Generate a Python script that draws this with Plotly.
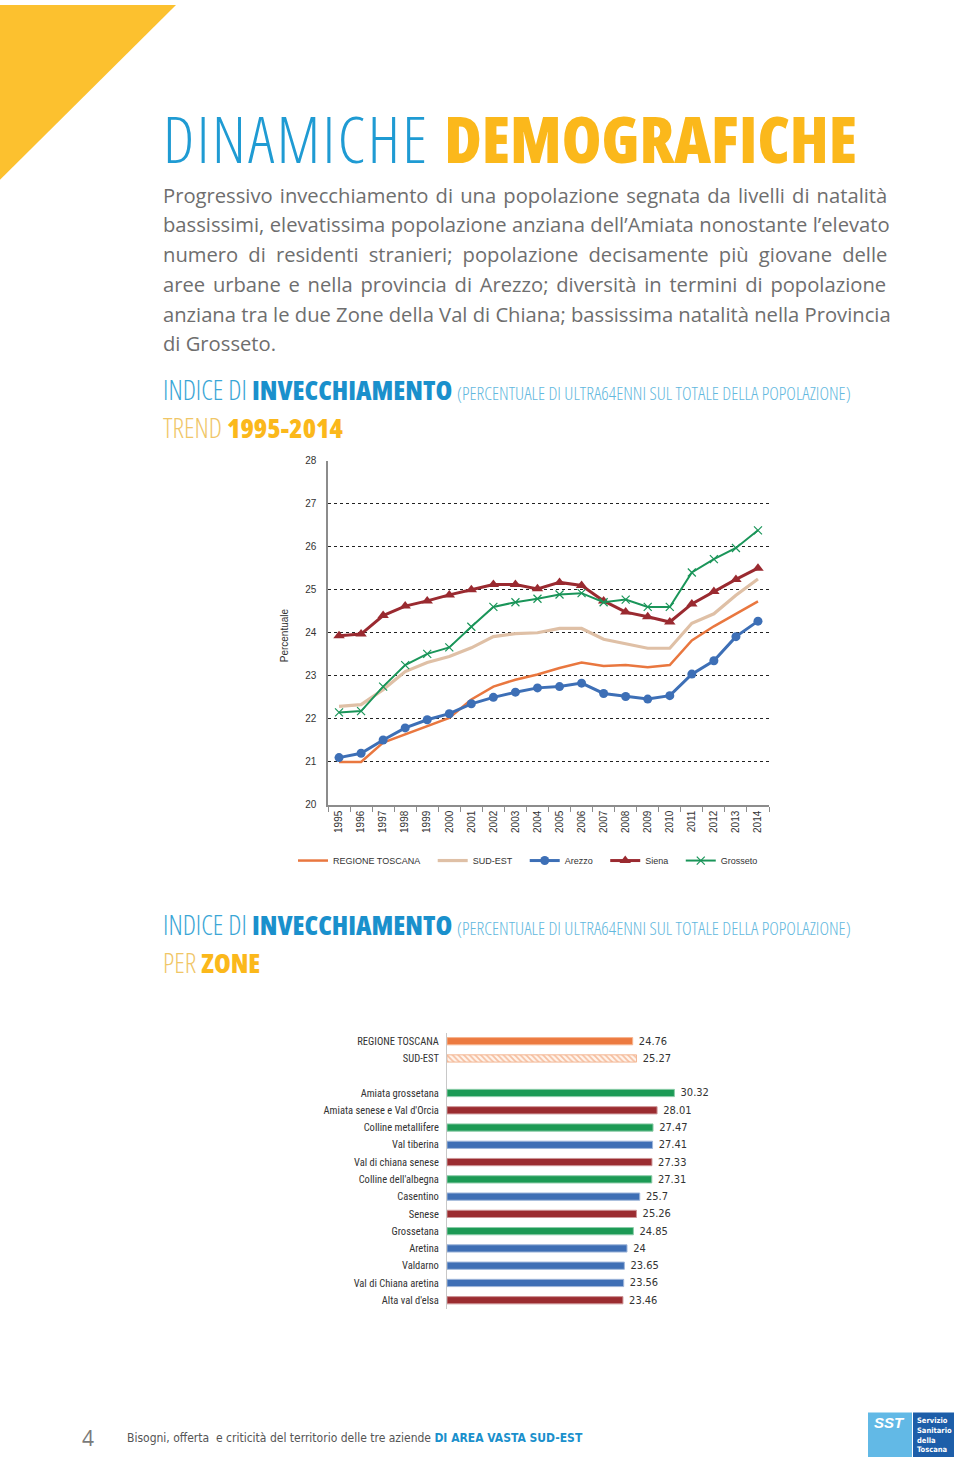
import plotly.graph_objects as go

# ---------------- DATA ----------------
years = ["1995", "1996", "1997", "1998", "1999", "2000", "2001", "2002", "2003", "2004",
         "2005", "2006", "2007", "2008", "2009", "2010", "2011", "2012", "2013", "2014"]
regione_toscana = [21.00, 21.00, 21.45, 21.64, 21.82, 22.02, 22.45, 22.75, 22.91, 23.03,
                   23.18, 23.31, 23.23, 23.25, 23.20, 23.25, 23.82, 24.15, 24.44, 24.73]
sud_est = [22.29, 22.33, 22.68, 23.10, 23.31, 23.45, 23.65, 23.91, 23.98, 24.00,
           24.10, 24.10, 23.85, 23.75, 23.64, 23.64, 24.22, 24.44, 24.87, 25.25]
arezzo = [21.10, 21.20, 21.51, 21.79, 21.98, 22.12, 22.35, 22.50, 22.62, 22.72,
          22.75, 22.83, 22.59, 22.52, 22.46, 22.54, 23.04, 23.35, 23.91, 24.27]
siena = [23.93, 23.97, 24.40, 24.62, 24.74, 24.88, 25.00, 25.12, 25.12, 25.02,
         25.17, 25.10, 24.74, 24.48, 24.37, 24.25, 24.67, 24.96, 25.24, 25.50]
grosseto = [22.15, 22.18, 22.75, 23.25, 23.51, 23.66, 24.14, 24.60, 24.71, 24.79,
            24.89, 24.92, 24.71, 24.77, 24.60, 24.60, 25.40, 25.71, 25.97, 26.38]
y_ticks = [20, 21, 22, 23, 24, 25, 26, 27, 28]

ref_labels = ["REGIONE TOSCANA", "SUD-EST"]
ref_values = [24.76, 25.27]
zone_labels = ["Amiata grossetana", "Amiata senese e Val d'Orcia", "Colline metallifere",
               "Val tiberina", "Val di chiana senese", "Colline dell'albegna", "Casentino",
               "Senese", "Grossetana", "Aretina", "Valdarno", "Val di Chiana aretina",
               "Alta val d'elsa"]
zone_values = [30.32, 28.01, 27.47, 27.41, 27.33, 27.31, 25.7, 25.26, 24.85, 24, 23.65, 23.56, 23.46]
zone_area = ["Grosseto", "Siena", "Grosseto", "Arezzo", "Siena", "Grosseto", "Arezzo",
             "Siena", "Grosseto", "Arezzo", "Arezzo", "Arezzo", "Siena"]

# ---------------- STYLE ----------------
W, H = 960, 1470
def fx(x): return x / W
def fy(y): return 1 - y / H

COND = "DejaVu Sans Condensed, Liberation Sans Narrow, sans-serif"
ARIAL = "Liberation Sans, Arial, sans-serif"
OPEN = "Open Sans, sans-serif"
BLUE_T = "#1f9bd3"
YEL = "#fbb81b"
C_REG = "#e9773f"
C_SUD = "#dfc0a6"
C_ARE = "#3d6fb6"
C_SIE = "#9a2a30"
C_GRO = "#1a9559"
area_color = {"Arezzo": "#3f6fb5", "Siena": "#9b2c30", "Grosseto": "#1c9a55"}
area_edge = {"Arezzo": "#9fb6da", "Siena": "#cd9597", "Grosseto": "#8ccca9"}

fig = go.Figure()

# ---------------- LINE CHART ----------------
PAD = "\u00a0\u00a0\u00a0"
fig.add_trace(go.Scatter(x=years, y=regione_toscana, name="REGIONE TOSCANA" + PAD, mode="lines",
                         line=dict(color=C_REG, width=2.5), xaxis="x", yaxis="y"))
fig.add_trace(go.Scatter(x=years, y=sud_est, name="SUD-EST" + PAD, mode="lines",
                         line=dict(color=C_SUD, width=3.2), xaxis="x", yaxis="y"))
fig.add_trace(go.Scatter(x=years, y=arezzo, name="Arezzo" + PAD, mode="lines+markers",
                         line=dict(color=C_ARE, width=3),
                         marker=dict(symbol="circle", size=9, color=C_ARE), xaxis="x", yaxis="y"))
fig.add_trace(go.Scatter(x=years, y=siena, name="Siena" + PAD, mode="lines+markers",
                         line=dict(color=C_SIE, width=3),
                         marker=dict(symbol="triangle-up", size=10, color=C_SIE), xaxis="x", yaxis="y"))
fig.add_trace(go.Scatter(x=years, y=grosseto, name="Grosseto", mode="lines+markers",
                         line=dict(color=C_GRO, width=2),
                         marker=dict(symbol="x-thin", size=8, line=dict(color=C_GRO, width=1.2)),
                         xaxis="x", yaxis="y"))

# ---------------- BAR CHART ----------------
bar_categories = ref_labels + [" "] + zone_labels
vfont = dict(family=COND, size=11, color="#333")
VT = "\u00a0%{x}"
fig.add_trace(go.Bar(y=[ref_labels[0]], x=[ref_values[0]], orientation="h", width=0.42,
                     marker=dict(color="#ec7a40", line=dict(color="#f6b591", width=1)),
                     texttemplate=VT, textposition="outside", cliponaxis=False,
                     constraintext="none", textfont=vfont,
                     showlegend=False, xaxis="x2", yaxis="y2"))
fig.add_trace(go.Bar(y=[ref_labels[1]], x=[ref_values[1]], orientation="h", width=0.42,
                     marker=dict(color="#fff1e8",
                                 pattern=dict(shape="\\", fgcolor="#ec8a55", bgcolor="#fff4ec",
                                              size=4, solidity=0.45),
                                 line=dict(color="#f3b896", width=1)),
                     texttemplate=VT, textposition="outside", cliponaxis=False,
                     constraintext="none", textfont=vfont,
                     showlegend=False, xaxis="x2", yaxis="y2"))
fig.add_trace(go.Bar(y=zone_labels, x=zone_values, orientation="h", width=0.42,
                     marker=dict(color=[area_color[a] for a in zone_area],
                                 line=dict(color=[area_edge[a] for a in zone_area], width=1)),
                     texttemplate=VT, textposition="outside", cliponaxis=False,
                     constraintext="none", textfont=vfont,
                     showlegend=False, xaxis="x2", yaxis="y2"))

# ---------------- LAYOUT ----------------
fig.update_layout(
    width=W, height=H, margin=dict(l=0, r=0, t=0, b=0),
    paper_bgcolor="white", plot_bgcolor="white",
    font=dict(family=ARIAL, color="#333"),
    xaxis=dict(domain=[fx(328), fx(769)], type="category", range=[-0.5, 19.5], tickangle=-90,
               showline=True, linecolor="#8c8c8c", linewidth=1.5,
               ticks="outside", tickson="boundaries", ticklen=5, tickcolor="#8c8c8c",
               tickfont=dict(family=ARIAL, size=10, color="#333"), showgrid=False,
               anchor="y"),
    yaxis=dict(domain=[fy(806), fy(459)], range=[20, 28], tickvals=y_ticks,
               showline=True, linecolor="#8c8c8c", linewidth=1.5,
               showgrid=True, gridcolor="#222", gridwidth=1, griddash="dot",
               zeroline=False, ticks="", ticklabelstandoff=8,
               tickfont=dict(family=ARIAL, size=10, color="#333"), anchor="x"),
    xaxis2=dict(domain=[fx(447), fx(760)], range=[0, 313 / 7.5], visible=False, anchor="y2"),
    yaxis2=dict(domain=[fy(1313.7), fy(1035.3)], type="category",
                categoryorder="array", categoryarray=bar_categories, range=[15.5, -0.5],
                tickvals=bar_categories,
                ticktext=[f"<span style='font-stretch:75%'>{c}</span>" for c in bar_categories],
                showline=True, linecolor="#c8c8c8", linewidth=1, ticks="",
                ticklabelstandoff=5, showgrid=False,
                tickfont=dict(family="Roboto, sans-serif", size=10.5, color="#333"), anchor="x2"),
    legend=dict(orientation="h", x=fx(293), y=fy(862), xanchor="left", yanchor="middle",
                font=dict(family=ARIAL, size=9, color="#333"), bgcolor="rgba(0,0,0,0)",
                itemwidth=30, tracegroupgap=0),
)

shapes = [
    dict(type="path", xref="paper", yref="paper",
         path=f"M 0 1 L {fx(176)} 1 L 0 {fy(176)} Z", fillcolor="#fcc12f", line=dict(width=0)),
    dict(type="rect", xref="paper", yref="paper", x0=fx(868), x1=fx(912), y0=fy(1463), y1=fy(1418),
         fillcolor="#62b9e6", line=dict(width=0)),
    dict(type="rect", xref="paper", yref="paper", x0=fx(913), x1=fx(954), y0=fy(1463), y1=fy(1418),
         fillcolor="#1d5ea9", line=dict(width=0)),
]
fig.update_layout(shapes=shapes)

ann = []
def A(text, x, y, size, color, family=COND, xanchor="left", yanchor="middle", **kw):
    ann.append(dict(text=text, x=fx(x), y=fy(y), xref="paper", yref="paper", showarrow=False,
                    xanchor=xanchor, yanchor=yanchor,
                    font=dict(size=size, color=color, family=family), **kw))

THIN = "font-stretch:75%;font-weight:300"
BOLD = "font-stretch:75%;font-weight:800"

# Title
A(f"<span style='{THIN};letter-spacing:2.5px'>DINAMICHE </span>"
  f"<span style='{BOLD};color:{YEL}'>DEMOGRAFICHE</span>",
  161, 134.5, 64, BLUE_T, family=OPEN)

# Paragraph (justified via word spacing)
para = [
    "Progressivo invecchiamento di una popolazione segnata da livelli di natalità",
    "bassissimi, elevatissima popolazione anziana dell’Amiata nonostante l’elevato",
    "numero di residenti stranieri; popolazione decisamente più giovane delle",
    "aree urbane e nella provincia di Arezzo; diversità in termini di popolazione",
    "anziana tra le due Zone della Val di Chiana; bassissima natalità nella Provincia",
    "di Grosseto.",
]
wspace = [1.9, 0.2, 4.9, 2.5, 0.0, 0.0]
for i, line in enumerate(para):
    A(f"<span style='word-spacing:{wspace[i]}px'>{line}</span>", 161, 191 + 30 * i, 20.2,
      "#6e6e6e", family="Open Sans, Noto Sans, sans-serif")

HEAD = (f"<span style='{THIN};font-size:27px'>INDICE DI </span>"
        f"<span style='{BOLD};font-size:27px;color:#1a90cc'>INVECCHIAMENTO </span>"
        f"<span style='{THIN};font-size:18.2px;color:#62b8de'>(PERCENTUALE DI ULTRA64ENNI SUL TOTALE DELLA POPOLAZIONE)</span>")
SUB1 = (f"<span style='{THIN};font-size:27px'>TREND </span>"
        f"<span style='{BOLD};font-size:27px;color:{YEL}'>1995-2014</span>")
SUB2 = (f"<span style='{THIN};font-size:27px'>PER </span>"
        f"<span style='{BOLD};font-size:27px;color:{YEL}'>ZONE</span>")

# Section headings (two lines each, 37.5px line pitch)
LS = 37.5 / 1.3
A(f"{HEAD}<br><span style='color:#f0c667'>{SUB1}</span>", 161, 406.5, LS, "#3aa6d6",
  family=OPEN, align="left")
A(f"{HEAD}<br><span style='color:#f0c667'>{SUB2}</span>", 161, 945.6, LS, "#3aa6d6",
  family=OPEN, align="left")

# Y-axis title
A("Percentuale", 284, 635, 10, "#333", family=ARIAL, xanchor="center", textangle=-90)

# Footer
A("4", 88, 1444, 21, "#7a7a7a", family=OPEN, xanchor="center")
A("Bisogni, offerta  e criticità del territorio delle tre aziende "
  "<span style='font-weight:bold;color:#1a90cc'>DI AREA VASTA SUD-EST</span>",
  125, 1444, 12, "#555", family=COND)
A("<b><i>SST</i></b>", 889, 1428, 15, "white", family=ARIAL, xanchor="center")
A("<b>Servizio<br>Sanitario<br>della<br>Toscana</b>", 915, 1440.5, 7.5, "white",
  family=COND, align="left")

fig.update_layout(annotations=ann)

POST = ("var s='margin:0;padding:0;height:1470px;overflow:hidden;font-size:0;line-height:0';"
        "document.documentElement.style.cssText=s;document.body.style.cssText=s;")
fig.write_html("out.html", config={"displayModeBar": False}, post_script=POST)
